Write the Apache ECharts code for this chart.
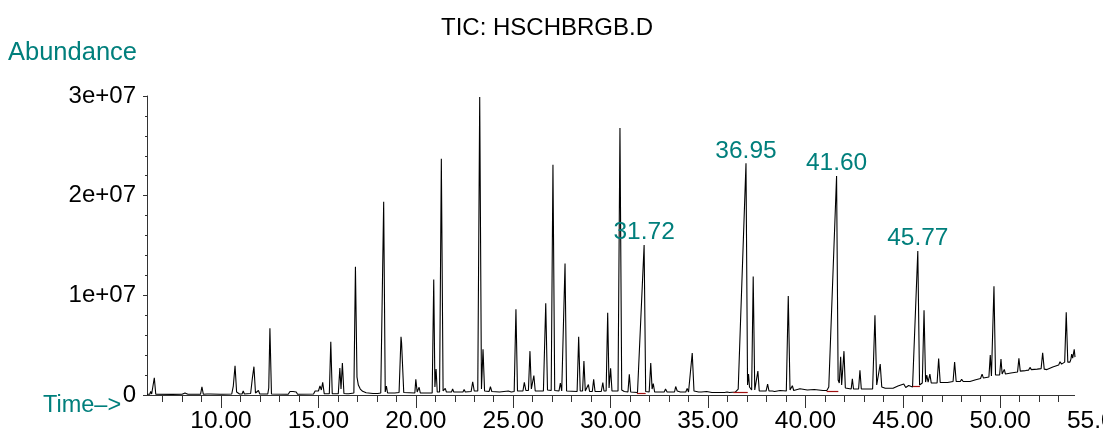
<!DOCTYPE html>
<html>
<head>
<meta charset="utf-8">
<title>TIC: HSCHBRGB.D</title>
<script src="https://cdn.jsdelivr.net/npm/echarts@6/dist/echarts.min.js"></script>
<style>
  html, body { margin: 0; padding: 0; background: #fff; }
  #chart { width: 1103px; height: 434px; }
</style>
</head>
<body>
<div id="chart"></div>
<script>
// Total ion chromatogram: [retention time (min), abundance (millions of counts)]
const tic = [
  [6.20,0.08],[6.34,0.08],[6.39,0.35],[6.44,0.10],[6.50,0.08],[6.575,1.73],[6.65,0.08],
  [7.50,0.06],[8.00,0.08],[8.15,0.20],[8.30,0.08],
  [8.95,0.08],[9.02,0.83],[9.09,0.08],[9.28,0.10],[9.35,0.28],[9.45,0.10],
  [9.95,0.08],[10.03,0.25],[10.10,0.08],
  [10.55,0.10],[10.63,0.90],[10.72,2.94],[10.80,0.30],[10.89,0.40],[10.95,0.10],
  [11.08,0.10],[11.14,0.40],[11.20,0.10],
  [11.52,0.15],[11.61,1.70],[11.69,2.84],[11.77,0.20],[11.85,0.15],[11.92,0.45],[11.99,0.10],
  [12.40,0.10],[12.45,0.70],[12.51,6.69],[12.59,0.10],
  [13.45,0.08],[13.54,0.35],[13.62,0.15],[13.70,0.35],[13.78,0.15],[13.86,0.30],[13.93,0.08],
  [14.75,0.10],[14.83,0.40],[14.90,0.20],[15.00,0.40],[15.08,0.90],[15.15,0.50],[15.22,1.27],[15.30,0.12],
  [15.56,0.12],[15.635,5.35],[15.71,0.12],
  [16.02,0.12],[16.10,2.70],[16.16,0.60],[16.23,3.20],[16.31,0.15],
  [16.45,0.12],[16.50,0.25],[16.56,0.12],
  [16.82,0.20],[16.90,12.87],[16.98,1.80],[17.05,1.00],[17.15,0.60],[17.27,0.37],[17.45,0.22],[17.80,0.15],
  [18.05,0.15],[18.12,0.30],[18.20,0.20],[18.27,0.30],[18.35,19.40],[18.43,0.30],[18.49,0.90],[18.55,0.20],
  [18.80,0.20],[18.85,0.35],[18.92,0.20],
  [19.14,0.25],[19.24,5.85],[19.27,5.20],[19.30,5.35],[19.38,0.25],
  [19.95,0.20],[20.00,1.57],[20.07,0.30],[20.12,0.30],[20.17,0.77],[20.23,0.20],
  [20.84,0.20],[20.92,11.60],[20.98,0.80],[21.04,2.60],[21.10,0.30],[21.22,0.30],[21.31,23.70],[21.40,0.40],
  [21.46,0.40],[21.51,0.67],[21.57,0.30],
  [21.83,0.30],[21.89,0.60],[21.95,0.30],
  [22.12,0.30],[22.18,0.45],[22.24,0.30],
  [22.42,0.30],[22.48,0.55],[22.54,0.30],
  [22.84,0.35],[22.92,1.33],[23.00,0.40],
  [23.18,0.40],[23.28,29.90],[23.37,0.60],[23.45,4.58],[23.53,0.40],
  [23.76,0.35],[23.83,0.83],[23.90,0.35],
  [24.30,0.30],[24.75,0.40],[24.90,0.30],
  [25.05,0.35],[25.14,8.60],[25.22,0.40],
  [25.50,0.40],[25.57,1.27],[25.65,0.45],
  [25.78,0.45],[25.86,4.40],[25.93,0.60],[25.99,0.70],[26.06,1.95],[26.13,0.40],
  [26.55,0.40],[26.67,9.20],[26.76,0.50],
  [26.95,0.45],[27.04,23.10],[27.13,0.45],
  [27.35,0.40],[27.42,1.20],[27.49,0.40],
  [27.58,0.40],[27.66,13.20],[27.74,0.40],
  [28.28,0.35],[28.36,5.85],[28.44,0.40],
  [28.56,0.40],[28.63,3.40],[28.70,0.40],
  [28.80,0.35],[28.86,1.05],[28.92,0.35],
  [29.06,0.35],[29.13,1.57],[29.20,0.35],
  [29.52,0.35],[29.60,1.25],[29.66,0.40],
  [29.77,0.40],[29.85,8.26],[29.92,0.70],[30.00,2.67],[30.07,0.40],
  [30.38,0.40],[30.48,26.80],[30.57,0.50],[30.70,0.35],
  [30.89,0.30],[30.96,2.07],[31.03,0.30],
  [31.38,0.25],[31.72,15.05],[31.80,0.35],
  [31.98,0.30],[32.06,3.20],[32.13,0.60],[32.19,1.15],[32.26,0.30],
  [32.75,0.30],[32.82,0.60],[32.90,0.30],
  [33.28,0.30],[33.34,0.85],[33.42,0.40],[33.50,0.60],[33.58,0.30],
  [33.86,0.30],[33.93,0.67],[34.00,0.30],
  [34.08,0.30],[34.19,4.20],[34.28,0.40],
  [34.52,0.30],[34.59,0.45],[34.66,0.30],[34.93,0.35],[35.20,0.25],
  [35.72,0.25],[35.78,0.45],[35.85,0.25],[35.98,0.30],[36.04,0.50],[36.10,0.25],
  [36.40,0.30],[36.55,0.60],[36.95,23.25],[37.03,1.00],[37.08,2.10],[37.13,0.80],
  [37.24,0.50],[37.32,11.90],[37.40,0.50],[37.49,0.50],[37.56,2.40],[37.63,0.40],
  [37.98,0.40],[38.06,1.10],[38.13,0.40],[38.30,0.40],[38.35,0.60],[38.42,0.35],[38.70,0.45],
  [39.02,0.40],[39.12,9.93],[39.21,0.50],[39.27,0.45],[39.33,0.93],[39.40,0.45],
  [39.72,0.63],[40.10,0.50],[40.45,0.55],[40.90,0.45],
  [41.10,0.45],[41.20,0.80],[41.60,21.97],[41.68,1.50],[41.74,1.20],[41.81,3.84],[41.86,1.00],[41.92,1.20],[41.98,4.40],[42.05,0.70],[42.15,0.60],
  [42.35,0.60],[42.41,1.63],[42.47,0.60],
  [42.73,0.60],[42.80,2.47],[42.87,0.60],
  [43.45,0.60],[43.57,8.00],[43.66,1.00],[43.75,0.90],[43.84,3.10],[43.92,0.80],[44.10,0.67],
  [44.50,0.67],[44.75,0.90],[44.85,0.70],[45.05,1.10],[45.15,0.75],[45.30,0.95],[45.40,0.75],
  [45.50,0.80],[45.77,14.45],[45.86,1.00],[45.92,1.20],
  [46.00,1.20],[46.09,8.50],[46.17,1.30],[46.23,2.00],[46.30,1.30],[46.39,2.10],[46.46,1.20],
  [46.76,1.20],[46.84,3.67],[46.92,1.25],
  [47.30,1.25],[47.58,1.35],[47.66,3.30],[47.74,1.35],
  [47.95,1.35],[48.02,1.57],[48.10,1.35],
  [48.45,1.35],[48.70,1.50],[48.99,1.65],[49.07,2.10],[49.14,1.70],
  [49.42,1.80],[49.49,4.00],[49.55,1.90],[49.60,1.90],[49.68,10.90],[49.76,2.00],
  [49.97,2.00],[50.04,3.60],[50.10,2.10],[50.15,2.10],[50.21,2.57],[50.27,2.10],
  [50.55,2.20],[50.89,2.30],[50.96,3.67],[51.03,2.40],
  [51.30,2.45],[51.46,2.50],[51.53,2.77],[51.60,2.55],
  [51.90,2.60],[52.10,2.65],[52.18,4.24],[52.26,2.60],
  [52.40,2.55],[52.70,2.80],[53.00,3.00],[53.07,3.34],[53.15,3.10],
  [53.31,3.30],[53.39,8.29],[53.47,3.30],[53.53,3.27],[53.58,3.30],[53.63,3.60],[53.67,4.10],[53.72,3.70],[53.80,4.58],[53.84,3.80]
];

// Integrated peaks that carry a retention-time label
const labeledPeaks = [31.72, 36.95, 41.60, 45.77];

// Integration baselines drawn under the labeled peaks: [start, end, level (millions)]
const baselineStart = [31.35, 36.30, 41.09, 45.51];
const baselineEnd   = [31.80, 37.04, 41.69, 45.88];
const baselineLevel = [0.17, 0.27, 0.40, 0.83];

// Axis ticks
const timeLabels = [10, 15, 20, 25, 30, 35, 40, 45, 50, 55];
const timeMajorTicks = [10, 15, 20, 25, 30, 35, 40, 45, 50];
const timeMinorTicks = [7,8,9,10,11,12,13,14,15,16,17,18,19,20,21,22,23,24,25,26,27,28,29,30,
  31,32,33,34,35,36,37,38,39,40,41,42,43,44,45,46,47,48,49,50,51,52,53];
const abundanceMax = 3e7;
const abundanceStep = 1e7;
const timeMin = 6.2;
const timeMax = 55;

const MILLION = 1e6;
const FONT = '"Liberation Sans", Arial, Helvetica, sans-serif';
const TEAL = '#007f7c';
const AXIS = '#333';

const traceData = tic.map(p => [p[0], p[1] * MILLION]);
const runStart = tic[0][0];
const runEnd = tic[tic.length - 1][0];

function abundanceAt(t) {
  const hit = traceData.find(p => Math.abs(p[0] - t) < 1e-9);
  return hit ? hit[1] : 0;
}

function sci(v) {
  if (v === 0) return '0';
  const e = Math.floor(Math.log10(v));
  const m = v / Math.pow(10, e);
  return (Math.round(m * 100) / 100) + 'e+' + String(e).padStart(2, '0');
}

const chart = echarts.init(document.getElementById('chart'), null, { renderer: 'canvas' });

chart.setOption({
  animation: false,
  backgroundColor: '#fff',
  title: {
    text: 'TIC: HSCHBRGB.D',
    left: 436,
    top: 11,
    textStyle: { fontFamily: FONT, fontSize: 24, fontWeight: 'normal', color: '#000' }
  },
  graphic: [
    {
      type: 'text', left: 8, top: 40,
      style: { text: 'Abundance', fill: TEAL, font: '25.5px ' + FONT }
    },
    {
      type: 'text', left: 43, top: 394,
      style: { text: 'Time\u2013>', fill: TEAL, font: '23.5px ' + FONT }
    }
  ],
  grid: { left: 147, right: 5.4, top: 96, bottom: 39, containLabel: false, outerBoundsMode: 'none' },
  xAxis: [
    {
      type: 'value', min: timeMin, max: timeMax,
      axisLine: { show: false },
      splitLine: { show: false },
      axisTick: { show: true, customValues: timeMajorTicks, length: 13, lineStyle: { color: AXIS, width: 1 } },
      axisLabel: {
        customValues: timeLabels, margin: 14,
        formatter: v => v.toFixed(2),
        fontFamily: FONT, fontSize: 24.5, color: '#000'
      }
    },
    {
      type: 'value', min: timeMin, max: timeMax, position: 'bottom',
      axisLine: { show: false },
      splitLine: { show: false },
      axisTick: { show: true, customValues: timeMinorTicks, length: 7, lineStyle: { color: AXIS, width: 1 } },
      axisLabel: { show: false }
    }
  ],
  yAxis: {
    type: 'value', min: 0, max: abundanceMax, interval: abundanceStep,
    axisLine: { show: true, lineStyle: { color: AXIS, width: 1 } },
    axisTick: { show: true, length: 4, lineStyle: { color: AXIS } },
    minorTick: { show: true, splitNumber: 5, length: 2, lineStyle: { color: AXIS } },
    splitLine: { show: false },
    axisLabel: { margin: 11, formatter: sci, fontFamily: FONT, fontSize: 24, color: '#000' }
  },
  series: [
    {
      name: 'TIC',
      type: 'line',
      data: traceData,
      showSymbol: false,
      symbol: 'none',
      sampling: false,
      lineStyle: { color: '#000', width: 1.1 },
      silent: true,
      z: 3,
      markLine: {
        silent: true,
        symbol: ['none', 'none'],
        label: { show: false },
        emphasis: { disabled: true },
        data: [
          [
            { coord: [runStart, 0], lineStyle: { color: AXIS, width: 1, type: 'solid' } },
            { coord: [runEnd, 0] }
          ]
        ].concat(baselineStart.map((s, i) => [
          { coord: [s, baselineLevel[i] * MILLION], lineStyle: { color: '#a01010', width: 1.2, type: 'solid' } },
          { coord: [baselineEnd[i], baselineLevel[i] * MILLION] }
        ]))
      }
    },
    {
      name: 'Peak labels',
      type: 'scatter',
      symbolSize: 0,
      silent: true,
      itemStyle: { opacity: 1 },
      data: labeledPeaks.map(t => [t, abundanceAt(t)]),
      label: {
        show: true, position: 'top', distance: 0,
        formatter: p => p.value[0].toFixed(2),
        fontFamily: FONT, fontSize: 24.5, color: TEAL, opacity: 1
      },
      z: 4
    }
  ]
});
</script>
</body>
</html>
